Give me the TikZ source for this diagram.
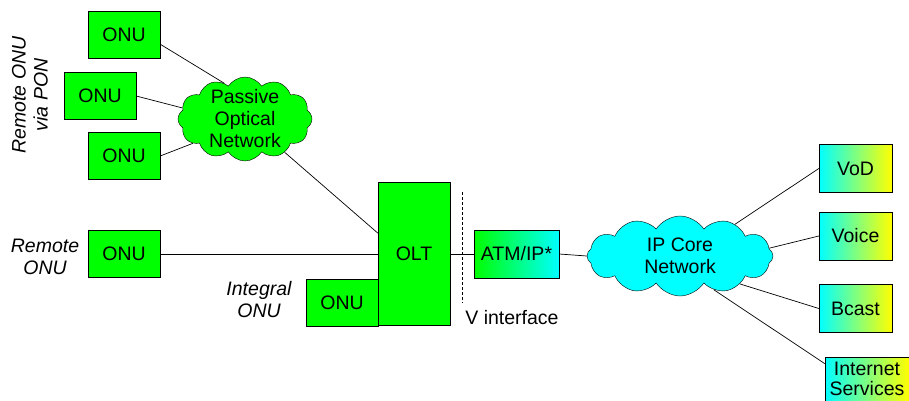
\documentclass[tikz,border=0pt]{standalone}
\usepackage{fontspec}
\setmainfont{Liberation Sans}
\usetikzlibrary{shapes.symbols,shadings}
\definecolor{onugreen}{RGB}{0,255,0}
\definecolor{corecyan}{RGB}{0,255,255}
\definecolor{svcyellow}{RGB}{255,255,0}

\begin{document}
\begin{tikzpicture}[
  x=1pt, y=-1pt,
  font=\fontsize{19.5}{22}\selectfont,
  box/.style={draw, fill=onugreen, align=center, minimum width=72pt, minimum height=47pt, inner sep=0pt},
  cld/.style={draw, cloud, cloud puffs=12, cloud puff arc=115, cloud ignores aspect, align=center, inner xsep=0pt},
  svc/.style={draw, left color=corecyan, right color=svcyellow, align=center,
    minimum width=73pt, minimum height=48pt, inner sep=0pt},
  lbl/.style={align=center, font=\fontsize{19.5}{22}\selectfont\itshape},
  link/.style={line width=0.7pt}
]
\useasboundingbox (0,0) rectangle (909,401);

\node[box] (onuA) at (124,34.5) {ONU};
\node[box] (onuB) at (100,96) {ONU};
\node[box] (onuC) at (124,156) {ONU};
\node[lbl, rotate=90] (ponlbl) at (30,95) {Remote ONU\\via PON};
\node[cld, fill=onugreen, inner ysep=-14pt, minimum width=134pt, minimum height=84pt] (pon) at (245,119) {Passive\\Optical\\Network};

\node[box] (onuR) at (124,254) {ONU};
\node[lbl] (remlbl) at (45,257) {Remote\\ONU};

\node[box, minimum height=143pt] (olt) at (414,254) {OLT};
\node[box] (onuI) at (342,302.5) {ONU};
\node[lbl] (intlbl) at (259,300) {Integral\\ONU};

\coordinate (vtop) at (462,192);
\coordinate (vbot) at (462,303);
\node (vlbl) at (512,318) {V interface};

\node[box, left color=onugreen, right color=corecyan, minimum width=85pt, minimum height=48pt] (atm) at (516.5,254) {ATM/IP*};
\node[cld, fill=corecyan, inner ysep=-10pt, minimum width=186pt, minimum height=80pt] (core) at (680,256) {IP Core\\Network};

\node[svc] (vod) at (855.5,168.5) {VoD};
\node[svc] (voice) at (855.5,236) {Voice};
\node[svc] (bcast) at (855.5,308.5) {Bcast};
\node[svc, minimum width=84pt, minimum height=44pt, font=\fontsize{19.5}{20}\selectfont] (inet) at (867,379) {Internet\\Services};

\draw[link] (onuA.-15) -- (pon.120);
\draw[link] (onuB.east) -- (pon.170);
\draw[link] (onuC.east) -- (pon.205);
\draw[link] (pon.-40) -- (olt.150);
\draw[link] (onuR.east) -- (olt.west);
\draw[link] (olt.east) -- (atm.west);
\draw[link] (atm.east) -- (core.west);
\draw[densely dashed, line width=0.7pt] (vtop) -- (vbot);
\draw[link] (core.30) -- (vod.west);
\draw[link] (core.5) -- (voice.west);
\draw[link] (core.-25) -- (bcast.west);
\draw[link] (core.-45) -- (inet.160);
\end{tikzpicture}
\end{document}
